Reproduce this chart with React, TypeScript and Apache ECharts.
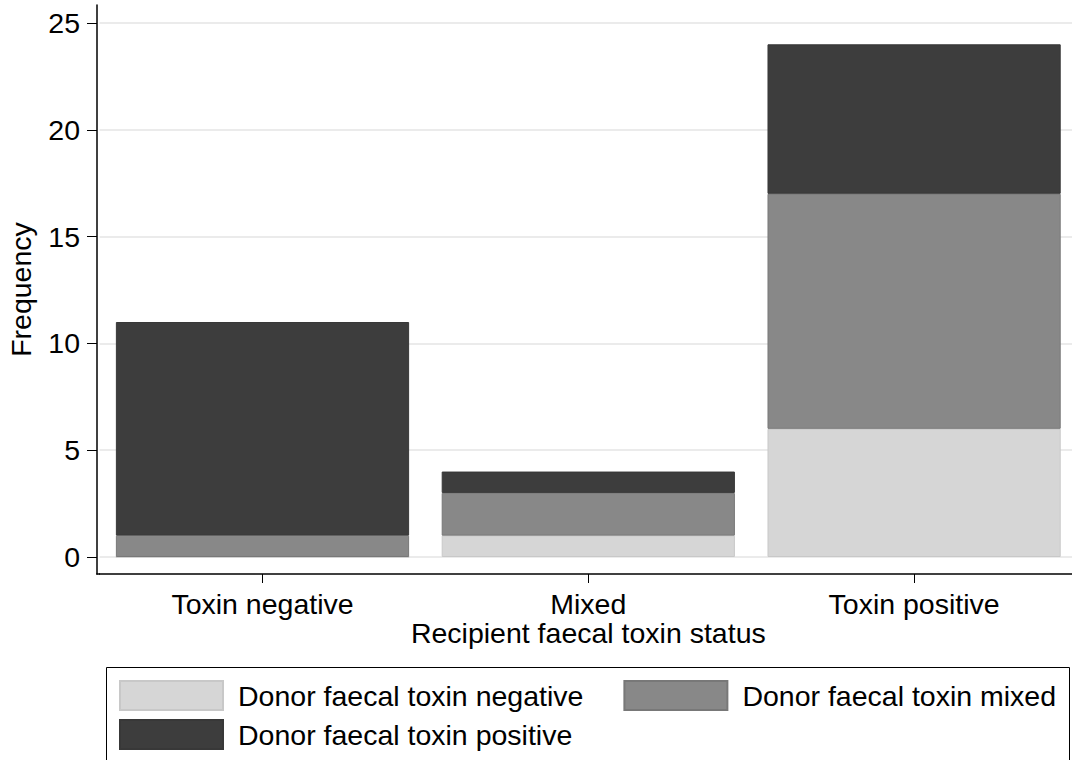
import React, { useEffect, useRef } from "react";
import * as echarts from "echarts";

// Recipient status categories on the x axis
const categories = ["Toxin negative", "Mixed", "Toxin positive"];

// Donor status counts, stacked bottom to top
const donorNegative = [0, 1, 6];
const donorMixed = [1, 2, 11];
const donorPositive = [10, 1, 7];

const yTicks = [0, 5, 10, 15, 20, 25];

const seriesNames = [
  "Donor faecal toxin negative",
  "Donor faecal toxin mixed",
  "Donor faecal toxin positive",
];

const FONT = "'Liberation Sans', Arial, Helvetica, sans-serif";
const FS = 28.5;

export default function App() {
  const ref = useRef<HTMLDivElement>(null);

  useEffect(() => {
    document.body.style.margin = "0";
    const chart = echarts.init(ref.current!, null, { renderer: "svg" });

    const fills = ["#d6d6d6", "#888888", "#3d3d3d"];
    const borders = ["#c8c8c8", "#787878", "#383838"];
    const values = [donorNegative, donorMixed, donorPositive];

    const legendText = { color: "#000", fontFamily: FONT, fontSize: FS, padding: [0, 0, 0, 10] };

    chart.setOption({
      animation: false,
      backgroundColor: "#ffffff",
      textStyle: { fontFamily: FONT },
      grid: {
        left: 99.6,
        right: -5,
        top: 5,
        bottom: 186,
        containLabel: false,
        outerBoundsMode: "none",
      },
      legend: [
        {
          data: [seriesNames[0], seriesNames[1]],
          left: 119,
          top: 680,
          orient: "horizontal",
          itemWidth: 103,
          itemHeight: 29,
          itemGap: 40,
          icon: "rect",
          textStyle: legendText,
          selectedMode: false,
          padding: 0,
        },
        {
          data: [seriesNames[2]],
          left: 119,
          top: 719,
          orient: "horizontal",
          itemWidth: 103,
          itemHeight: 29,
          icon: "rect",
          textStyle: legendText,
          selectedMode: false,
          padding: 0,
        },
      ],
      xAxis: {
        type: "category",
        data: categories,
        name: "Recipient faecal toxin status",
        nameLocation: "middle",
        nameGap: 44,
        nameMoveOverlap: false,
        nameTextStyle: { color: "#000", fontSize: FS, fontFamily: FONT },
        axisLine: { show: true, onZero: false, lineStyle: { color: "#000", width: 1.5 } },
        axisTick: { show: true, alignWithLabel: true, length: 9, lineStyle: { color: "#000", width: 1 } },
        axisLabel: { color: "#000", fontSize: FS, fontFamily: FONT, margin: 15 },
        splitLine: { show: false },
      },
      yAxis: {
        type: "value",
        min: -0.796,
        max: 25.84,
        offset: 2.6,
        name: "Frequency",
        nameLocation: "middle",
        nameGap: 62,
        nameMoveOverlap: false,
        nameRotate: 90,
        nameTextStyle: { color: "#000", fontSize: FS, fontFamily: FONT },
        axisLine: { show: true, onZero: false, lineStyle: { color: "#000", width: 1.5 } },
        axisTick: { show: true, length: 10, customValues: yTicks, lineStyle: { color: "#000", width: 1 } },
        axisLabel: { color: "#000", fontSize: FS, fontFamily: FONT, margin: 17, customValues: yTicks },
        splitLine: { show: true, lineStyle: { color: "#ebebeb", width: 2 } },
      },
      graphic: [
        {
          type: "rect",
          shape: { x: 106.5, y: 667.5, width: 963, height: 110 },
          style: { fill: "none", stroke: "#000", lineWidth: 1 },
          silent: true,
        },
        {
          type: "line",
          shape: { x1: 96.3, y1: 574, x2: 100, y2: 574 },
          style: { stroke: "#000", lineWidth: 1.5 },
          silent: true,
        },
      ],
      series: seriesNames.map((name, i) => ({
        name,
        type: "bar",
        stack: "donor",
        data: values[i],
        barCategoryGap: "10%",
        itemStyle: { color: fills[i], borderColor: borders[i], borderWidth: 1 },
        emphasis: { disabled: true },
      })),
    });

    return () => chart.dispose();
  }, []);

  return (
    <div
      ref={ref}
      style={{ position: "absolute", left: 0, top: 0, width: 1072, height: 760 }}
    />
  );
}
